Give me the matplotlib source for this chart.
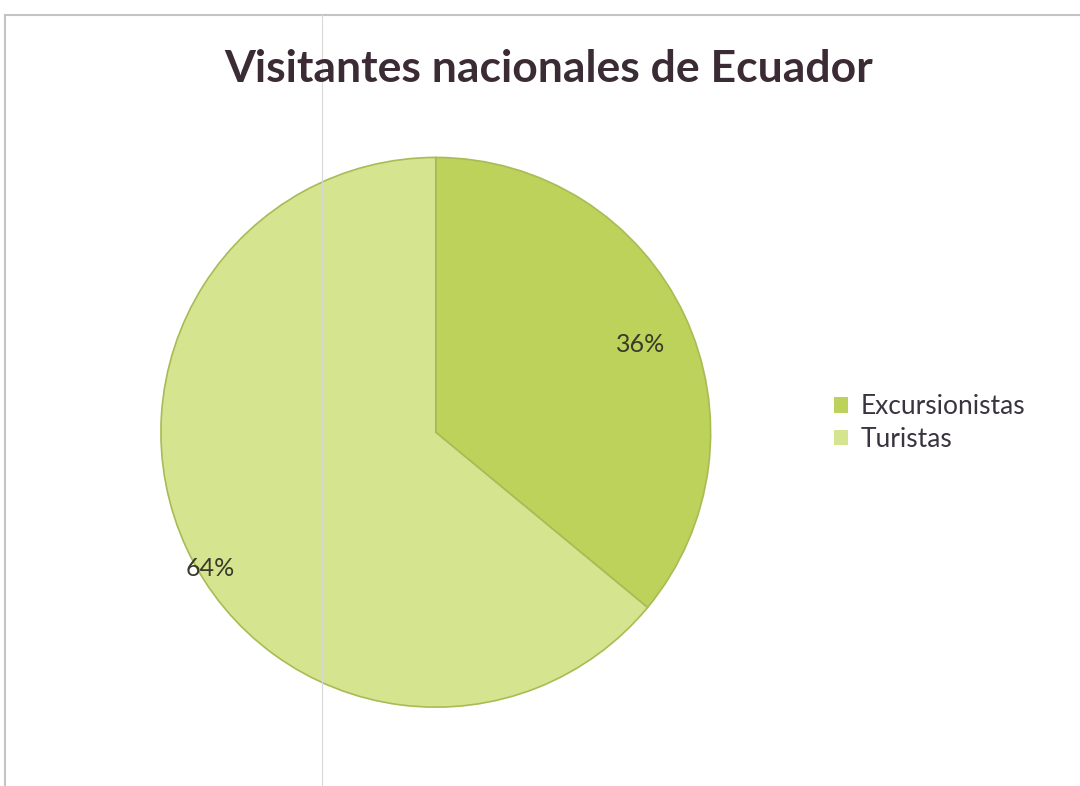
import numpy as np
import matplotlib.pyplot as plt
from matplotlib.lines import Line2D

# share of domestic visitors
categorias = ['Excursionistas', 'Turistas']
porcentajes = [36, 64]
colores = ['#bcd25a', '#d5e48f']
titulo = 'Visitantes nacionales de Ecuador'

plt.rcParams['font.family'] = ['Lato', 'DejaVu Sans']

fig = plt.figure(figsize=(10.8, 7.86), dpi=100)
fig.set_facecolor('white')

# frame of the chart area
fig.add_artist(Line2D([5/1080, 5/1080], [0, 1 - 15/786], color='#c4c4c4', lw=1.5))
fig.add_artist(Line2D([5/1080, 1], [1 - 15/786, 1 - 15/786], color='#c4c4c4', lw=1.5))

ax = fig.add_axes([0.149, 0.100, 0.509, 0.700])
wedges, texts, autotexts = ax.pie(porcentajes, colors=colores, startangle=90,
                                  counterclock=False, autopct='%d%%',
                                  pctdistance=0.8,
                                  wedgeprops=dict(edgecolor='#a9bb55', linewidth=1.2),
                                  textprops=dict(fontsize=18, color='#3a3a2a'))
ax.set_xlim(-1, 1)
ax.set_ylim(-1, 1)

# label placement (radius, angle shift in degrees) per slice
ajustes = [(0.81, -2), (0.96, 6)]
for w, t, (r, da) in zip(wedges, autotexts, ajustes):
    ang = np.deg2rad((w.theta1 + w.theta2) / 2 + da)
    t.set_position((r * np.cos(ang), r * np.sin(ang)))

fig.add_artist(Line2D([322/1080, 322/1080], [0, 1 - 15/786], color='#d8d8d8', lw=0.8))

fig.text(0.508, 0.912, titulo, ha='center', va='center', fontsize=32,
         fontweight='bold', color='#3b2b35')

leg = fig.legend(wedges, categorias, loc='center left', bbox_to_anchor=(0.75, 0.462),
                 frameon=False, fontsize=19, handlelength=0.55, handleheight=0.55,
                 handletextpad=0.45, labelspacing=0.3)
for t in leg.get_texts():
    t.set_color('#3a3440')
for h in leg.legend_handles:
    h.set_linewidth(0)

plt.savefig('out.png', dpi=100, facecolor='white')
